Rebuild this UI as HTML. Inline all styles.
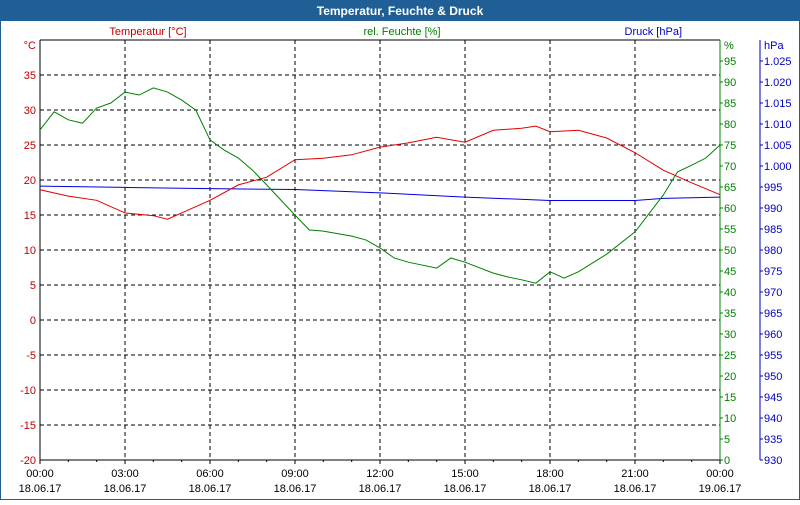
<!DOCTYPE html>
<html><head><meta charset="utf-8"><style>
body{margin:0;width:800px;height:500px;overflow:hidden;font-family:"Liberation Sans",sans-serif;}
</style></head><body>
<svg width="800" height="500" xmlns="http://www.w3.org/2000/svg" font-family="Liberation Sans, sans-serif" font-size="11">
<rect x="0" y="0" width="800" height="500" fill="#fff"/>
<rect x="0" y="0" width="800" height="21" fill="#1f5f96"/>
<rect x="0.5" y="0.5" width="799" height="499" fill="none" stroke="#1f5f96"/>
<text x="400" y="15" text-anchor="middle" fill="#fff" font-weight="bold" font-size="12">Temperatur, Feuchte &amp; Druck</text>
<text x="148" y="35" text-anchor="middle" fill="#c00000">Temperatur [°C]</text>
<text x="402" y="35" text-anchor="middle" fill="#008000">rel. Feuchte [%]</text>
<text x="682" y="35" text-anchor="end" fill="#0000c0">Druck [hPa]</text>
<g id="grid"></g>
<g id="axes"></g>
<g id="series"></g>
</svg>
<script>
const hours=[0,1,2,3,4,4.5,5,6,7,8,9,10,11,12,13,14,15,16,17,17.5,18,19,20,21,22,23,24];
const temps=[18.6,17.7,17.1,15.3,14.9,14.4,15.3,17.1,19.3,20.4,22.9,23.1,23.6,24.7,25.3,26.1,25.4,27.1,27.4,27.7,26.9,27.1,26,23.9,21.4,19.6,17.9];
const humHours=[0,0.5,1,1.5,2,2.5,3,3.5,4,4.5,5,5.5,6,6.5,7,7.5,8,8.5,9,9.5,10,11,11.5,12,12.5,13,14,14.5,15,16,16.5,17,17.5,18,18.5,19,20,21,22,22.5,23,23.5,24];
const hums=[78.6,82.9,81,80.2,83.8,85,87.6,86.9,88.6,87.6,85.7,83.3,76.2,73.8,71.9,69,65.5,61.9,58.3,54.8,54.5,53.3,52.4,50.5,48.1,47.1,45.7,48.1,47.1,44.5,43.6,42.9,42.1,44.8,43.3,44.8,49,54.3,63.1,68.6,70.2,71.9,75];
const presHours=[0,3,6,9,12,15,18,21,22,24];
const pres=[995.2,994.9,994.6,994.4,993.6,992.6,991.8,991.8,992.3,992.6];
const tempTicks=[-20,-15,-10,-5,0,5,10,15,20,25,30,35];
const humTicks=[0,5,10,15,20,25,30,35,40,45,50,55,60,65,70,75,80,85,90,95];
const presTicks=[930,935,940,945,950,955,960,965,970,975,980,985,990,995,1000,1005,1010,1015,1020,1025];
const timeLabels=["00:00","03:00","06:00","09:00","12:00","15:00","18:00","21:00","00:00"];
const dateLabels=["18.06.17","18.06.17","18.06.17","18.06.17","18.06.17","18.06.17","18.06.17","18.06.17","19.06.17"];

const L=40,R=720,T=40,B=460;
const x=h=>L+h*(R-L)/24;
const yT=v=>B-(v+20)*(B-T)/60;
const yH=v=>B-v*(B-T)/100;
const yP=v=>B-(v-930)*(B-T)/100;
const NS="http://www.w3.org/2000/svg";
function mk(parent,tag,attrs){const e=document.createElementNS(NS,tag);for(const k in attrs)e.setAttribute(k,attrs[k]);document.getElementById(parent).appendChild(e);return e;}
tempTicks.forEach(v=>{if(v===-20)return;
 const e=mk('grid','line',{x1:L,x2:R,y1:yT(v),y2:yT(v),stroke:'#000','stroke-dasharray':'4,3'});
 
 });
for(let i=1;i<8;i++){const e=mk('grid','line',{x1:x(i*3),x2:x(i*3),y1:T,y2:B,stroke:'#000','stroke-dasharray':'4,3'});
 
 }
let e;
e=mk('axes','line',{x1:L,x2:L,y1:T,y2:B+0.5,stroke:'#000'});
e=mk('axes','line',{x1:L,x2:R,y1:T,y2:T,stroke:'#000'});
e=mk('axes','line',{x1:L,x2:R,y1:B,y2:B,stroke:'#000'});
e=mk('axes','line',{x1:R,x2:R,y1:T,y2:B,stroke:'#008000'});
e=mk('axes','line',{x1:760,x2:760,y1:T,y2:B,stroke:'#0000c0'});
tempTicks.forEach(v=>{const t=mk('axes','text',{x:36,y:yT(v)+4,'text-anchor':'end',fill:'#c00000'});t.textContent=v;
 
 });
e=mk('axes','text',{x:36,y:49,'text-anchor':'end',fill:'#c00000'});e.textContent='°C';
humTicks.forEach(v=>{mk('axes','line',{x1:R,x2:R+3,y1:yH(v),y2:yH(v),stroke:'#008000'});
 const t=mk('axes','text',{x:724,y:yH(v)+4,fill:'#008000'});t.textContent=v;
 
 });
e=mk('axes','text',{x:724,y:49,fill:'#008000'});e.textContent='%';
presTicks.forEach(v=>{mk('axes','line',{x1:760,x2:763,y1:yP(v),y2:yP(v),stroke:'#0000c0'});
 const t=mk('axes','text',{x:764,y:yP(v)+4,fill:'#0000c0'});t.textContent=v>=1000?('1.'+String(v-1000).padStart(3,'0')):v;
 
 });
e=mk('axes','text',{x:764,y:49,fill:'#0000c0'});e.textContent='hPa';
for(let h=0;h<=24;h++){mk('axes','line',{x1:x(h),x2:x(h),y1:B,y2:B+(h%3?2:4),stroke:'#000'});}
timeLabels.forEach((s,i)=>{const t=mk('axes','text',{x:x(i*3),y:477,'text-anchor':'middle',fill:'#000'});t.textContent=s;
 
 
 const d=mk('axes','text',{x:x(i*3),y:492,'text-anchor':'middle',fill:'#000'});d.textContent=dateLabels[i];
 
 });
function line(xs,ys,fy,col,name){const p=mk('series','polyline',{points:xs.map((h,i)=>x(h)+','+fy(ys[i])).join(' '),fill:'none',stroke:col,'stroke-width':1});
 
 }
line(presHours,pres,yP,'#0000e0','pressure-line');
line(humHours,hums,yH,'#008000','humidity-line');
line(hours,temps,yT,'#e00000','temperature-line');
</script>
</body></html>
